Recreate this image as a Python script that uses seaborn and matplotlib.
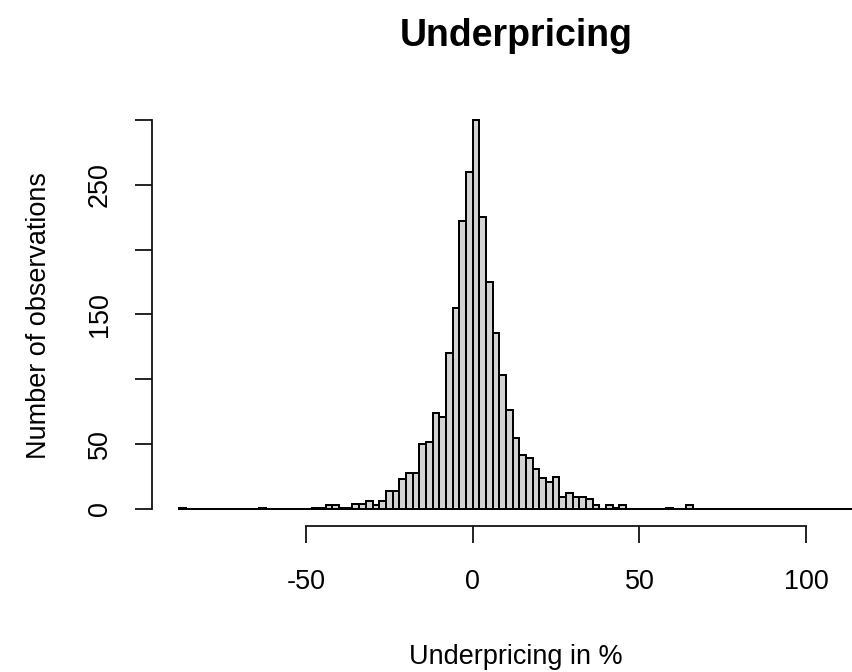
import numpy as np
import pandas as pd
import matplotlib
matplotlib.use("Agg")
import matplotlib.pyplot as plt
import seaborn as sns

# histogram bins of width 2 (in %), from -88 to 114
bin_width = 2
bin_start = -88
bin_stop = 114

# counts, bin [-52,-50] ... [64,66]
core_start = -52
core_counts = [
    0, 0, 1, 1, 3, 3, 1, 1, 4, 4,          # -52 .. -32
    6, 3, 6, 14, 14, 23, 28, 28, 50, 52,   # -32 .. -12
    74, 71, 120, 155, 222, 260, 300, 225, 175, 136,  # -12 .. 8
    103, 76, 55, 42, 39, 31, 24, 21, 25, 9,          # 8 .. 28
    12, 9, 9, 8, 3, 0, 3, 1, 3, 0,         # 28 .. 48
    0, 0, 0, 0, 0, 1, 0, 0, 3,             # 48 .. 66
]
# isolated outliers far in the left tail
outlier_bins = [-88, -64]
outlier_counts = [1, 1]

x_ticks = [-50, 0, 50, 100]
y_ticks = [0, 50, 100, 150, 200, 250, 300]
y_ticklabels = ['0', '50', '', '150', '', '250', '']

# build one row per bin (empty bins too, R draws them as a flat line)
lefts = np.arange(bin_start, bin_stop, bin_width)
counts = np.zeros(len(lefts))
for i, c in enumerate(core_counts):
    counts[np.where(lefts == core_start + i * bin_width)[0][0]] = c
for b, c in zip(outlier_bins, outlier_counts):
    counts[np.where(lefts == b)[0][0]] = c
df = pd.DataFrame({'underpricing': lefts + bin_width / 2, 'n': counts})

sns.set_theme(style='ticks')
plt.rcParams['font.family'] = ['Liberation Sans', 'DejaVu Sans']

px = 72 / 100  # points per pixel at dpi 100
fig = plt.figure(figsize=(8.53, 6.72), dpi=100)
ax = fig.add_axes([152 / 853, 146 / 672, 728 / 853, 421.6 / 672])

sns.histplot(data=df, x='underpricing', weights='n',
             binwidth=bin_width, binrange=(bin_start, bin_stop),
             color='#D3D3D3', edgecolor='black', linewidth=2 * px,
             alpha=1, ax=ax)

ax.set_xlim(-96.08, 122.08)
ax.set_ylim(-13.11, 312.0)

sns.despine(ax=ax)
ax.spines['left'].set_bounds(0, 300)
ax.spines['bottom'].set_bounds(-50, 100)
for s in ['left', 'bottom']:
    ax.spines[s].set_linewidth(1.8 * px)
    ax.spines[s].set_color('#111111')

ax.set_xticks(x_ticks)
ax.set_xticklabels([str(t) for t in x_ticks])
ax.set_yticks(y_ticks)
ax.set_yticklabels(y_ticklabels, rotation=90, va='center')
ax.tick_params(axis='both', length=17 * px, width=1.8 * px, color='#111111',
               labelsize=27 * px, labelcolor='black')
ax.tick_params(axis='x', pad=26 * px)
ax.tick_params(axis='y', pad=22 * px)

ax.set_xlabel('Underpricing in %', fontsize=27 * px, color='black', labelpad=49 * px)
ax.set_ylabel('Number of observations', fontsize=27 * px, color='black', labelpad=35 * px)
ax.set_title('Underpricing', fontsize=37.5 * px, fontweight='bold', color='black', pad=58 * px)
ax.grid(False)

fig.savefig('out.png', dpi=100)
